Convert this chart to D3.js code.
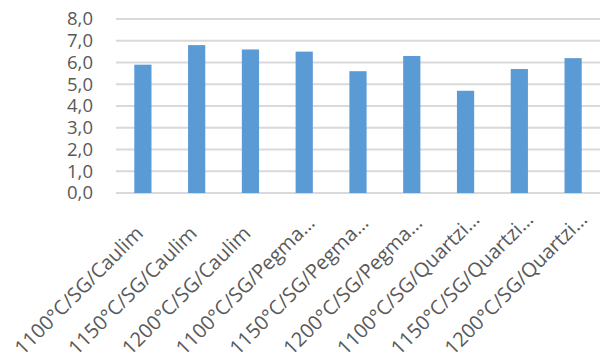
<!DOCTYPE html>
<html>
<head>
<meta charset="utf-8">
<script src="https://cdn.jsdelivr.net/npm/d3@7"></script>
<style>
  html, body { margin: 0; padding: 0; background: #fff; }
  svg { display: block; }
  text { font-family: "Open Sans", "Liberation Sans", sans-serif; fill: #595959; }
</style>
</head>
<body>
<svg id="chart" width="605" height="362"></svg>
<script>
// Samples (temperature / method / raw material) and measured values
const categories = [
  "1100°C/SG/Caulim", "1150°C/SG/Caulim", "1200°C/SG/Caulim",
  "1100°C/SG/Pegma…", "1150°C/SG/Pegma…", "1200°C/SG/Pegma…",
  "1100°C/SG/Quartzi…", "1150°C/SG/Quartzi…", "1200°C/SG/Quartzi…"
];
const values = [5.9, 6.8, 6.6, 6.5, 5.6, 6.3, 4.7, 5.7, 6.2];
const yTicks = [0, 1, 2, 3, 4, 5, 6, 7, 8];

const svg = d3.select("#chart");
const plotLeft = 116, plotRight = 600, plotTop = 19, plotBottom = 193;

const x = d3.scaleBand().domain(categories).range([plotLeft, plotRight]).paddingInner(0.68).paddingOuter(0.34);
const y = d3.scaleLinear().domain([0, 8]).range([plotBottom, plotTop]);

const fmt = v => d3.format(".1f")(v).replace(".", ",");

// horizontal gridlines
svg.append("g").selectAll("line").data(yTicks).join("line")
  .attr("x1", plotLeft).attr("x2", plotRight)
  .attr("y1", d => y(d)).attr("y2", d => y(d))
  .attr("stroke", "#d9d9d9").attr("stroke-width", 2);

// value axis labels
const yAxis = d3.axisLeft(y).tickValues(yTicks).tickFormat(fmt).tickSize(0).tickPadding(23);
const gy = svg.append("g").attr("transform", `translate(${plotLeft},0)`).call(yAxis);
gy.select(".domain").remove();
gy.selectAll("text").style("font-size", "18.5px").attr("fill", "#595959")
  .style("font-family", "'Open Sans', 'Liberation Sans', sans-serif");

// bars
svg.append("g").selectAll("rect").data(values).join("rect")
  .attr("x", (d, i) => x(categories[i]))
  .attr("width", x.bandwidth())
  .attr("y", d => y(d))
  .attr("height", d => y(0) - y(d))
  .attr("fill", "#5b9bd5");

// category labels, rotated 45° and running up towards their bar
const xAxis = d3.axisBottom(x).tickSize(0).tickPadding(0);
const gx = svg.append("g").attr("transform", `translate(0,${plotBottom})`).call(xAxis);
gx.select(".domain").remove();
gx.selectAll("text")
  .style("font-size", "20px").attr("fill", "#595959")
  .style("font-family", "'Open Sans', 'Liberation Sans', sans-serif")
  .attr("text-anchor", "start")
  .attr("dy", null).attr("y", 0)
  .attr("transform", "translate(-120,163) rotate(-45)");
</script>
</body>
</html>
